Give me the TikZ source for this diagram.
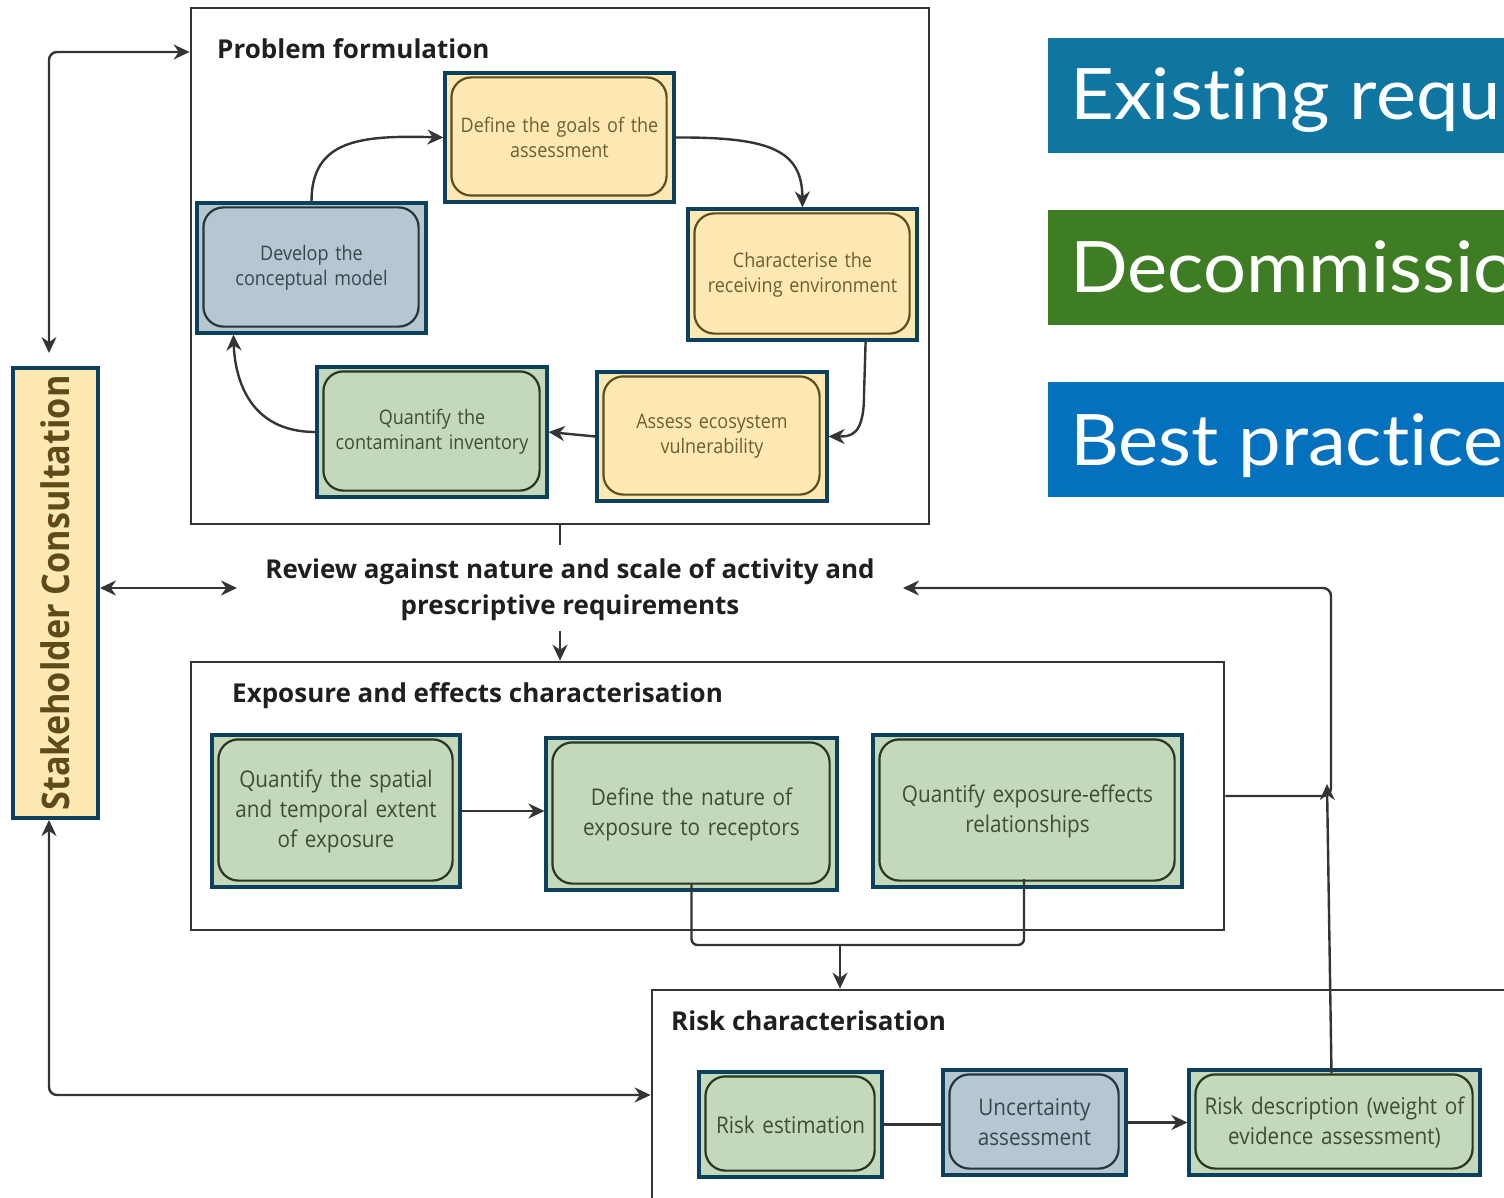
\documentclass[tikz,border=0pt]{standalone}
\usepackage{fontspec}
\setmainfont{Open Sans}[FakeStretch=0.9]
\newfontfamily\titlefont{Open Sans}[FakeStretch=1.0]
\newfontfamily\legendfont{Lato}[FakeStretch=1.07,Ligatures=NoCommon]
\usetikzlibrary{arrows.meta,calc}
\definecolor{teal0}{RGB}{12,64,92}
\definecolor{yfill}{RGB}{255,233,178}
\definecolor{gfill}{RGB}{196,216,186}
\definecolor{bfill}{RGB}{182,199,209}
\definecolor{ytext}{RGB}{110,94,48}
\definecolor{stext}{RGB}{92,76,28}
\definecolor{gtext}{RGB}{62,78,52}
\definecolor{btext}{RGB}{56,70,80}
\definecolor{yline}{RGB}{92,78,32}
\definecolor{gline}{RGB}{40,55,35}
\definecolor{bline}{RGB}{38,52,62}
\definecolor{lin}{RGB}{52,52,52}
\definecolor{legA}{RGB}{14,118,160}
\definecolor{legB}{RGB}{62,125,36}
\definecolor{legC}{RGB}{3,113,190}
\tikzset{
  outerbox/.style={draw=teal0, line width=3.2pt, inner sep=0pt, align=center},
  ybox/.style={outerbox, fill=yfill, text=ytext},
  gbox/.style={outerbox, fill=gfill, text=gtext},
  bbox/.style={outerbox, fill=bfill, text=btext},
  cont/.style={draw=lin, line width=2.8pt, inner sep=0pt},
  conn/.style={draw=lin, line width=2.4pt},
  arr/.style={conn, -{Stealth[length=16pt,width=15pt]}},
  darr/.style={conn, {Stealth[length=16pt,width=15pt]}-{Stealth[length=16pt,width=15pt]}},
  title/.style={anchor=base west, inner sep=0pt, text=black!88, font=\titlefont\bfseries\fontsize{26}{31}\selectfont},
  smallt/.style={font=\fontsize{20}{25}\selectfont},
  bigt/.style={font=\fontsize{23}{30}\selectfont},
  legtext/.style={anchor=base west, inner sep=0pt, text=white, font=\legendfont\fontsize{71}{80}\selectfont},
}
\newcommand\innerbox[2]{\draw[#2, line width=2.2pt, rounded corners=20pt] ($(#1.north west)+(8,6)$) rectangle ($(#1.south east)+(-9,-8)$);}
\begin{document}
\begin{tikzpicture}[x=1pt,y=-1pt]
\useasboundingbox (0,0) rectangle (1504,1198);
\clip (0,0) rectangle (1504,1198);
\fill[white] (0,0) rectangle (1504,1198);

% containers
\node[cont, minimum width=738pt, minimum height=516pt] (pf) at (560,266) {};
\node[cont, minimum width=1033pt, minimum height=268pt] (exp) at (707.5,796) {};
\node[cont, minimum width=868pt, minimum height=220pt] (risk) at (1086,1100) {};
\node[title] (tpf) at (217,59) {Problem formulation};
\node[title] (texp) at (232,702) {Exposure and effects characterisation};
\node[title] (trisk) at (671,1030) {Risk characterisation};

% problem formulation nodes
\node[ybox, smallt, minimum width=229pt, minimum height=129pt, text width=215pt] (goals) at (559.5,137.5) {Define the goals of the\\assessment};
\innerbox{goals}{yline}
\node[bbox, smallt, minimum width=229pt, minimum height=130pt, text width=215pt] (concept) at (311.5,268) {Develop the\\conceptual model};
\innerbox{concept}{bline}
\node[ybox, smallt, minimum width=229pt, minimum height=131pt, text width=215pt] (charact) at (802.5,274.5) {Characterise the\\receiving environment};
\innerbox{charact}{yline}
\node[ybox, smallt, minimum width=230pt, minimum height=129pt, text width=215pt] (assess) at (712,436.5) {Assess ecosystem\\vulnerability};
\innerbox{assess}{yline}
\node[gbox, smallt, minimum width=230pt, minimum height=130pt, text width=215pt] (invent) at (432,432) {Quantify the\\contaminant inventory};
\innerbox{invent}{gline}

% exposure nodes
\node[gbox, bigt, minimum width=248pt, minimum height=152pt, text width=235pt] (spatial) at (336,811) {Quantify the spatial\\and temporal extent\\of exposure};
\innerbox{spatial}{gline}
\node[gbox, bigt, minimum width=291pt, minimum height=152pt, text width=275pt] (nature) at (691.5,814) {Define the nature of\\exposure to receptors};
\innerbox{nature}{gline}
\node[gbox, bigt, minimum width=309pt, minimum height=152pt, text width=295pt] (expeff) at (1027.5,811) {Quantify exposure-effects\\relationships};
\innerbox{expeff}{gline}

% risk nodes
\node[gbox, bigt, minimum width=183pt, minimum height=105pt, text width=175pt] (riskest) at (790.5,1124.5) {Risk estimation};
\innerbox{riskest}{gline}
\node[bbox, bigt, minimum width=183pt, minimum height=105pt, text width=175pt] (uncert) at (1034.5,1122.5) {Uncertainty\\assessment};
\innerbox{uncert}{bline}
\node[gbox, bigt, minimum width=291pt, minimum height=105pt, text width=285pt] (riskdesc) at (1334.5,1122.5) {Risk description (weight of\\evidence assessment)};
\innerbox{riskdesc}{gline}

% stakeholder
\node[ybox, text=stext, rotate=90, minimum width=450pt, minimum height=85pt, font=\bfseries\fontsize{38}{44}\selectfont] (stake) at (55.5,593) {Stakeholder Consultation};

% review text
\node[align=center, inner sep=0pt, text=black!88, font=\titlefont\bfseries\fontsize{26}{36}\selectfont] (review) at (570,590) {Review against nature and scale of activity and\\prescriptive requirements};

% legend
\node[fill=legA, minimum width=470pt, minimum height=115pt, inner sep=0pt, anchor=north west] (lA) at (1048,38) {};
\node[legtext] (lAt) at (1070,120) {Existing requirements};
\node[fill=legB, minimum width=470pt, minimum height=115pt, inner sep=0pt, anchor=north west] (lB) at (1048,210) {};
\node[legtext] (lBt) at (1070,293) {Decommissioning};
\node[fill=legC, minimum width=470pt, minimum height=115pt, inner sep=0pt, anchor=north west] (lC) at (1048,382) {};
\node[legtext] (lCt) at (1070,465) {Best practice};

% coordinates
\coordinate (sT) at (49,353);
\coordinate (sB) at (49,820);
\coordinate (hL) at (100,588);
\coordinate (hR) at (237,588);
\coordinate (rvTop) at (560,545);
\coordinate (brace) at (840,945);
\coordinate (fbTip) at (903,588);
\coordinate (fbUp) at (1327,784);

% problem formulation connectors
\draw[arr] (concept.north) .. controls (311.5,140) and (360,135) .. (goals.west);
\draw[arr] (goals.east) .. controls (770,137) and (802,150) .. (charact.north);
\draw[arr] ($(charact.south east)+(-53,0)$) -- (864,395) .. controls (864,436.5) and (850,436.5) .. (assess.east);
\draw[arr] (assess.west) -- (invent.east);
\draw[arr] (invent.west) .. controls (250,432) and (235,380) .. ($(concept.south west)+(38,0)$);

% stakeholder connectors
\draw[darr, rounded corners=8pt] (sT) -- (49,52) -- (pf.west |- 0,52);
\draw[darr] (hL) -- (hR);
\draw[darr, rounded corners=8pt] (sB) -- (49,1095) -- (risk.west |- 0,1095);

% review connectors
\draw[conn] (pf.south) -- (rvTop);
\draw[arr] ($(exp.north -| pf.south)+(0,-30)$) -- (exp.north -| pf.south);

% exposure connectors
\draw[arr] (spatial.east) -- (spatial.east -| nature.west);
\draw[conn, rounded corners=6pt] ($(nature.south)+(0,-8)$) -- (691.5,945) -- (1024,945) -- (1024,879);
\draw[arr] (brace) -- (risk.north -| brace);
\draw[arr, rounded corners=8pt] (exp.east) -- (1331,796) -- (1331,588) -- (fbTip);

% risk connectors
\draw[conn] (riskest.east -| uncert.west) -- (riskest.east);
\draw[arr] (uncert.east) -- (riskdesc.west);
\draw[arr] ($(riskdesc.north)+(-3,5)$) -- (fbUp);
\end{tikzpicture}
\end{document}
